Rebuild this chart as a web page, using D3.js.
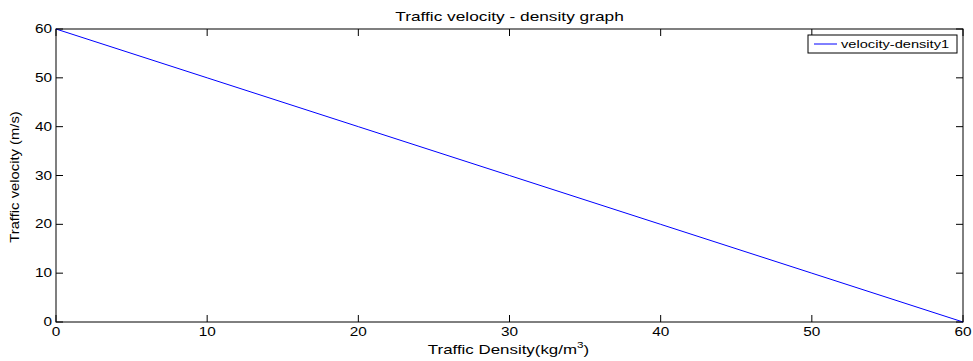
<!DOCTYPE html>
<html lang="en">
<head>
  <meta charset="UTF-8" />
  <title>Traffic velocity - density graph</title>
  <script src="https://d3js.org/d3.v7.min.js"></script>
  <style>
    body { margin: 0; background: #fff; }
    svg { display: block; font-family: "Liberation Sans", Arial, sans-serif; }
  </style>
</head>
<body>
  <svg id="chart" width="973" height="361"></svg>

  <script>
    // data
    const density = [0, 10, 20, 30, 40, 50, 60];
    const velocity = [60, 50, 40, 30, 20, 10, 0];
    const xTicks = [0, 10, 20, 30, 40, 50, 60];
    const yTicks = [0, 10, 20, 30, 40, 50, 60];
    const seriesName = "velocity-density1";

    const svg = d3.select("#chart");
    const plotLeft = 56, plotRight = 963, plotTop = 29, plotBottom = 322;
    const tickLen = 7;
    const stretch = 1.3; // the original figure is wider than it is tall

    const x = d3.scaleLinear().domain([0, 60]).range([plotLeft, plotRight]);
    const y = d3.scaleLinear().domain([0, 60]).range([plotBottom, plotTop]);

    // text placed at (px, py), widened horizontally
    function label(px, py, size, anchor, sx) {
      return svg.append("text")
        .attr("transform", `translate(${px},${py}) scale(${sx || stretch},1)`)
        .attr("text-anchor", anchor)
        .attr("font-size", size);
    }

    // ticks on all four sides, pointing inward
    const g = svg.append("g").attr("stroke", "#000").attr("stroke-width", 1);
    xTicks.forEach((t) => {
      g.append("line").attr("x1", x(t)).attr("x2", x(t)).attr("y1", plotBottom).attr("y2", plotBottom - tickLen);
      g.append("line").attr("x1", x(t)).attr("x2", x(t)).attr("y1", plotTop).attr("y2", plotTop + tickLen);
    });
    yTicks.forEach((t) => {
      g.append("line").attr("x1", plotLeft).attr("x2", plotLeft + tickLen).attr("y1", y(t)).attr("y2", y(t));
      g.append("line").attr("x1", plotRight).attr("x2", plotRight - tickLen).attr("y1", y(t)).attr("y2", y(t));
    });

    // the line
    const line = d3.line()
      .x((d, i) => x(density[i]))
      .y((d) => y(d));
    svg.append("path")
      .datum(velocity)
      .attr("d", line)
      .attr("fill", "none")
      .attr("stroke", "#0000ff")
      .attr("stroke-width", 1);

    // box
    svg.append("rect")
      .attr("x", plotLeft).attr("y", plotTop)
      .attr("width", plotRight - plotLeft).attr("height", plotBottom - plotTop)
      .attr("fill", "none").attr("stroke", "#000").attr("stroke-width", 1);

    // tick labels
    xTicks.forEach((t) => label(x(t), 336, 12, "middle", 1.28).text(t));
    yTicks.forEach((t) => label(52, y(t) + 4, 12, "end", 1.28).text(t));

    // title and axis labels
    label((plotLeft + plotRight) / 2, 21, 13, "middle", 1.33)
      .text("Traffic velocity - density graph");

    const xl = label((plotLeft + plotRight) / 2 - 1, 354, 13, "middle", 1.3);
    xl.append("tspan").text("Traffic Density(kg/m");
    xl.append("tspan").attr("font-size", 9).attr("dy", -6).text("3");
    xl.append("tspan").attr("dy", 6).text(")");

    svg.append("text")
      .attr("transform", `translate(19, 177) rotate(-90) scale(1.14,1)`)
      .attr("text-anchor", "middle").attr("font-size", 13)
      .text("Traffic velocity (m/s)");

    // legend
    const lg = svg.append("g");
    lg.append("rect")
      .attr("x", 808).attr("y", 35).attr("width", 149).attr("height", 18)
      .attr("fill", "#fff").attr("stroke", "#000").attr("stroke-width", 1);
    lg.append("line")
      .attr("x1", 814).attr("x2", 837).attr("y1", 44).attr("y2", 44)
      .attr("stroke", "#0000ff").attr("stroke-width", 1);
    label(841, 48, 11, "start", 1.33).text(seriesName);
  </script>
</body>
</html>
